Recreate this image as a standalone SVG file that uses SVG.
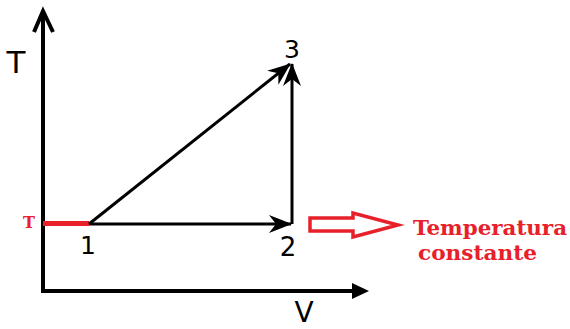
<svg xmlns="http://www.w3.org/2000/svg" width="570" height="329" viewBox="0 0 570 329">
<style>
.ax{stroke:#000;stroke-width:4;fill:none}
.ln{stroke:#000;stroke-width:3;fill:none;marker-end:url(#barb)}
.lbl{font-family:"DejaVu Sans",Verdana,sans-serif;fill:#000;text-anchor:middle}
.red{font-family:"DejaVu Serif","Liberation Serif",serif;font-weight:bold;fill:#e8202a}
</style>
<defs>
<marker id="barb" markerUnits="userSpaceOnUse" markerWidth="26" markerHeight="22" viewBox="-24 -11 26 22" refX="0" refY="0" orient="auto">
<path d="M1,0 L-22,-9 L-15,0 L-22,9 Z" fill="#000"/>
</marker>
</defs>
<rect width="570" height="329" fill="#fff"/>
<g id="axes">
<line class="ax" x1="43" y1="12" x2="43" y2="293"/>
<polyline class="ax" points="34,32 43,11 53,32"/>
<line class="ax" x1="41" y1="291" x2="355" y2="291"/>
<polygon points="352,283 369,291 352,299" fill="#000"/>
<text class="lbl" x="16" y="73" font-size="31">T</text>
<text class="lbl" x="304" y="322" font-size="28">V</text>
</g>
<g id="isotherm">
<line x1="43" y1="223.5" x2="89" y2="223.5" stroke="#e8202a" stroke-width="5"/>
<text class="red" x="29" y="228" font-size="16" text-anchor="middle">T</text>
</g>
<g id="connectors">
<line class="ln" x1="89" y1="224" x2="291" y2="224"/>
<line class="ln" x1="292" y1="224" x2="292" y2="64"/>
<line class="ln" x1="89" y1="224" x2="290" y2="64"/>
</g>
<g id="node1"><text class="lbl" x="88" y="254" font-size="25">1</text></g>
<g id="node2"><text class="lbl" x="288" y="256" font-size="26">2</text></g>
<g id="node3"><text class="lbl" x="292" y="58" font-size="25">3</text></g>
<g id="note">
<path d="M310,218 L353,218 L353,213 L398,225 L353,237 L353,231 L310,231 Z" fill="none" stroke="#e8202a" stroke-width="3.5" stroke-linejoin="miter"/>
<text class="red" x="413" y="235" font-size="20.5" textLength="154" lengthAdjust="spacingAndGlyphs">Temperatura</text>
<text class="red" x="418" y="260" font-size="20.5" textLength="119" lengthAdjust="spacingAndGlyphs">constante</text>
</g>
</svg>
